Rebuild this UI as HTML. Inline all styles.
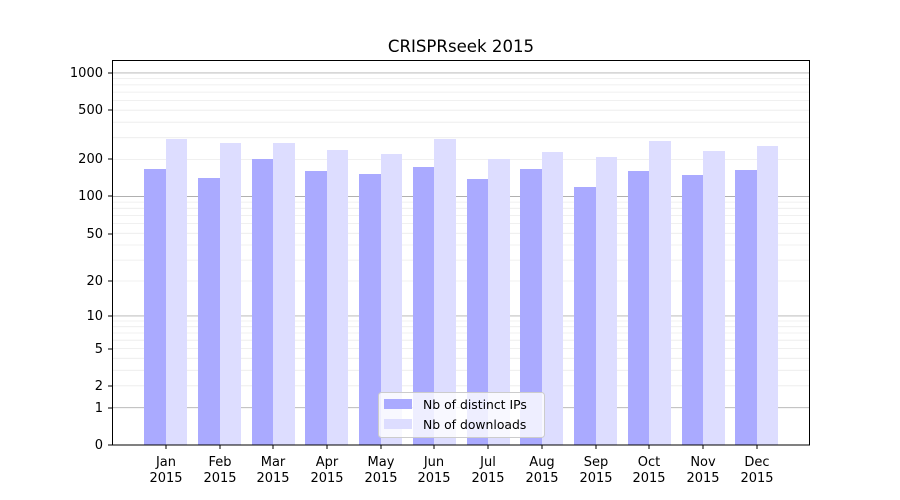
<!DOCTYPE html>
<html><head><meta charset="utf-8"><style>
body{margin:0;background:#fff;}
svg{display:block;font-family:"DejaVu Sans","Liberation Sans",sans-serif;}
</style></head><body>
<svg id="s" width="900" height="500" xmlns="http://www.w3.org/2000/svg">
<rect width="900" height="500" fill="#fff"/>
<g id="grid"></g>
<g id="bars">
<rect x="144" y="169" width="22" height="276" fill="#aaaaff"/><rect x="166" y="139" width="21" height="306" fill="#ddddff"/>
<rect x="198" y="178" width="22" height="267" fill="#aaaaff"/><rect x="220" y="143" width="21" height="302" fill="#ddddff"/>
<rect x="252" y="159" width="21" height="286" fill="#aaaaff"/><rect x="273" y="143" width="22" height="302" fill="#ddddff"/>
<rect x="305" y="171" width="22" height="274" fill="#aaaaff"/><rect x="327" y="150" width="21" height="295" fill="#ddddff"/>
<rect x="359" y="174" width="22" height="271" fill="#aaaaff"/><rect x="381" y="154" width="21" height="291" fill="#ddddff"/>
<rect x="413" y="167" width="21" height="278" fill="#aaaaff"/><rect x="434" y="139" width="22" height="306" fill="#ddddff"/>
<rect x="467" y="179" width="21" height="266" fill="#aaaaff"/><rect x="488" y="159" width="22" height="286" fill="#ddddff"/>
<rect x="520" y="169" width="22" height="276" fill="#aaaaff"/><rect x="542" y="152" width="21" height="293" fill="#ddddff"/>
<rect x="574" y="187" width="22" height="258" fill="#aaaaff"/><rect x="596" y="157" width="21" height="288" fill="#ddddff"/>
<rect x="628" y="171" width="21" height="274" fill="#aaaaff"/><rect x="649" y="141" width="22" height="304" fill="#ddddff"/>
<rect x="682" y="175" width="21" height="270" fill="#aaaaff"/><rect x="703" y="151" width="22" height="294" fill="#ddddff"/>
<rect x="735" y="170" width="22" height="275" fill="#aaaaff"/><rect x="757" y="146" width="21" height="299" fill="#ddddff"/>
</g>
<rect x="112.5" y="60.5" width="697" height="384.5" fill="none" stroke="#000" stroke-width="1"/>
<text x="461" y="52" font-size="16.6" text-anchor="middle">CRISPRseek 2015</text>
<g font-size="13" text-anchor="end">
<text x="103" y="449">0</text><text x="103" y="412">1</text><text x="103" y="390">2</text>
<text x="103" y="353">5</text><text x="103" y="320">10</text><text x="103" y="285">20</text>
<text x="103" y="238">50</text><text x="103" y="200">100</text><text x="103" y="163">200</text>
<text x="103" y="114">500</text><text x="103" y="77">1000</text>
</g>
<g stroke="#000"><line x1="108" x2="112" y1="445" y2="445"/><line x1="108" x2="112" y1="408" y2="408"/><line x1="108" x2="112" y1="386" y2="386"/><line x1="108" x2="112" y1="349" y2="349"/><line x1="108" x2="112" y1="316" y2="316"/><line x1="108" x2="112" y1="281" y2="281"/><line x1="108" x2="112" y1="234" y2="234"/><line x1="108" x2="112" y1="196" y2="196"/><line x1="108" x2="112" y1="159" y2="159"/><line x1="108" x2="112" y1="110" y2="110"/><line x1="108" x2="112" y1="73" y2="73"/></g>
<g font-size="13" text-anchor="middle" id="xl">
<text x="166" y="466">Jan</text><text x="166" y="482">2015</text>
<text x="220" y="466">Feb</text><text x="220" y="482">2015</text>
<text x="273" y="466">Mar</text><text x="273" y="482">2015</text>
<text x="327" y="466">Apr</text><text x="327" y="482">2015</text>
<text x="381" y="466">May</text><text x="381" y="482">2015</text>
<text x="434" y="466">Jun</text><text x="434" y="482">2015</text>
<text x="488" y="466">Jul</text><text x="488" y="482">2015</text>
<text x="542" y="466">Aug</text><text x="542" y="482">2015</text>
<text x="596" y="466">Sep</text><text x="596" y="482">2015</text>
<text x="649" y="466">Oct</text><text x="649" y="482">2015</text>
<text x="703" y="466">Nov</text><text x="703" y="482">2015</text>
<text x="757" y="466">Dec</text><text x="757" y="482">2015</text>
</g>
<g stroke="#000"><line x1="166" x2="166" y1="445" y2="449"/><line x1="220" x2="220" y1="445" y2="449"/><line x1="273" x2="273" y1="445" y2="449"/><line x1="327" x2="327" y1="445" y2="449"/><line x1="381" x2="381" y1="445" y2="449"/><line x1="434" x2="434" y1="445" y2="449"/><line x1="488" x2="488" y1="445" y2="449"/><line x1="542" x2="542" y1="445" y2="449"/><line x1="596" x2="596" y1="445" y2="449"/><line x1="649" x2="649" y1="445" y2="449"/><line x1="703" x2="703" y1="445" y2="449"/><line x1="757" x2="757" y1="445" y2="449"/></g>
<rect x="378.5" y="392.5" width="166" height="45" rx="3" fill="#fff" fill-opacity="0.8" stroke="#ccc"/>
<rect x="384" y="399" width="28" height="10" fill="#aaaaff"/>
<rect x="384" y="419" width="28" height="10" fill="#ddddff"/>
<text x="423" y="409" font-size="12.4">Nb of distinct IPs</text>
<text x="423" y="429" font-size="12.4">Nb of downloads</text>
</svg>
<script>
var g=document.getElementById('grid'),h='';
function y(v){return 445-124*Math.log10(1+v);}
[1,10,100,1000].forEach(function(d){for(var k=1;k<10;k++){var v=d*k;var yy=y(v);if(yy<61)continue;
var major=(k==1);h+='<line x1="113" x2="809" y1="'+yy.toFixed(1)+'" y2="'+yy.toFixed(1)+'" stroke="'+(major?'#b0b0b0':'#ebebeb')+'" stroke-width="'+(major?0.9:0.8)+'"/>';}});
g.innerHTML=h;
</script>
</body></html>
